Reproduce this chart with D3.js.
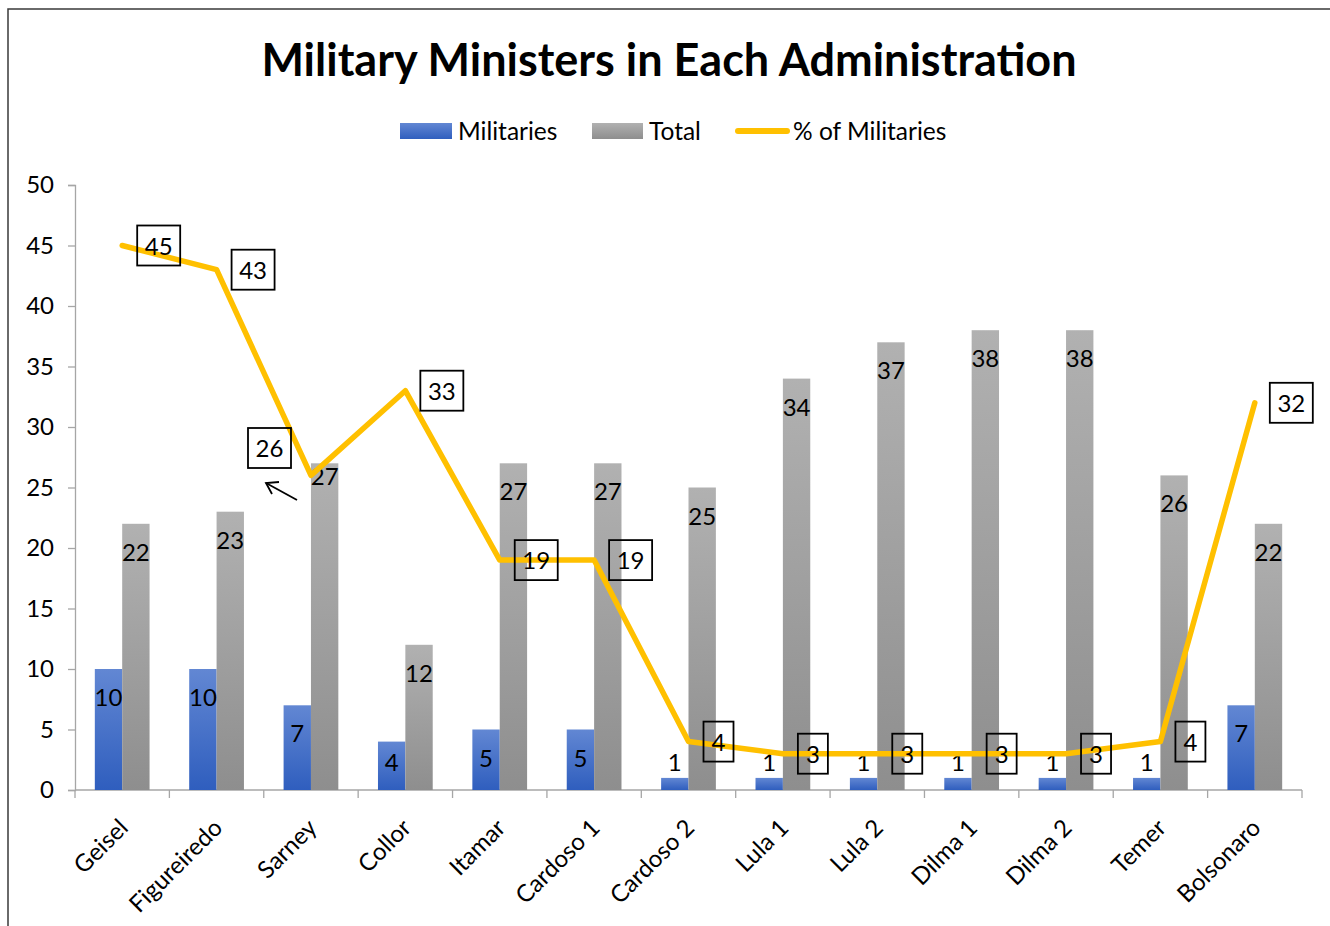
<!DOCTYPE html>
<html>
<head>
<meta charset="utf-8">
<script src="https://cdn.jsdelivr.net/npm/d3@7"></script>
<style>
  body { margin: 0; background: #fff; }
  text { font-family: Lato, "Open Sans", sans-serif; fill: #000; }
</style>
</head>
<body>
<div id="chart"></div>
<script>
// data
const administrations = ["Geisel", "Figureiredo", "Sarney", "Collor", "Itamar", "Cardoso 1", "Cardoso 2",
    "Lula 1", "Lula 2", "Dilma 1", "Dilma 2", "Temer", "Bolsonaro"];
const militaries = [10, 10, 7, 4, 5, 5, 1, 1, 1, 1, 1, 1, 7];
const totals = [22, 23, 27, 12, 27, 27, 25, 34, 37, 38, 38, 26, 22];
const pctMilitaries = [45, 43, 26, 33, 19, 19, 4, 3, 3, 3, 3, 4, 32];
const yTicks = [0, 5, 10, 15, 20, 25, 30, 35, 40, 45, 50];

const W = 1330, H = 926;
const margin = { top: 185, right: 28, bottom: 136, left: 75 };
const width = W - margin.left - margin.right;
const height = H - margin.top - margin.bottom;
const fs = "24px";

const svgRoot = d3.select("#chart").append("svg")
    .attr("width", W).attr("height", H);

// gradients for the bars
const defs = svgRoot.append("defs");
function grad(id, top, bottom) {
    const g = defs.append("linearGradient").attr("id", id)
        .attr("x1", 0).attr("y1", 0).attr("x2", 0).attr("y2", 1);
    g.append("stop").attr("offset", "0%").attr("stop-color", top);
    g.append("stop").attr("offset", "100%").attr("stop-color", bottom);
}
grad("gBlue", "#6287D3", "#2F5EBE");
grad("gGray", "#B1B1B1", "#8E8E8E");

// chart frame
svgRoot.append("rect")
    .attr("x", 8).attr("y", 9).attr("width", W + 20).attr("height", H + 20)
    .attr("fill", "none").attr("stroke", "#3a3a3a").attr("stroke-width", 1.5);

// title
svgRoot.append("text")
    .attr("x", 669).attr("y", 76)
    .attr("text-anchor", "middle")
    .style("font-size", "45px").style("font-weight", "bold")
    .text("Military Ministers in Each Administration");

const svg = svgRoot.append("g")
    .attr("transform", `translate(${margin.left},${margin.top})`);

// scales
const x0 = d3.scaleBand().domain(administrations).range([0, width]).paddingInner(0).paddingOuter(0);
const x1 = d3.scaleBand().domain(["mil", "tot"]).range([x0.bandwidth() * 0.21, x0.bandwidth() * 0.79]);
const y = d3.scaleLinear().domain([0, 50]).range([height, 0]);

// axes
const yAxis = svg.append("g").call(d3.axisLeft(y).tickValues(yTicks).tickSize(7).tickPadding(14));
yAxis.select(".domain").attr("stroke", "#a6a6a6").attr("stroke-width", 1.3);
yAxis.selectAll(".tick line").attr("stroke", "#a6a6a6").attr("stroke-width", 1.3);
yAxis.selectAll(".tick text").style("font-size", fs).style("font-family", "Lato, sans-serif").attr("fill", "#000");

const xAxis = svg.append("g").attr("transform", `translate(0,${height})`);
xAxis.append("line").attr("x1", 0).attr("x2", width).attr("stroke", "#a6a6a6").attr("stroke-width", 1.3);
d3.range(administrations.length + 1).forEach(i => {
    const xx = i * x0.step();
    xAxis.append("line").attr("x1", xx).attr("x2", xx).attr("y1", 0).attr("y2", 8)
        .attr("stroke", "#a6a6a6").attr("stroke-width", 1.3);
});
administrations.forEach(name => {
    const cx = x0(name) + x0.bandwidth() / 2;
    xAxis.append("text")
        .attr("transform", `translate(${cx + 3},${35}) rotate(-45)`)
        .attr("text-anchor", "end")
        .attr("dominant-baseline", "middle")
        .style("font-size", fs)
        .text(name);
});

// bars
const groups = svg.selectAll(".grp").data(administrations).enter().append("g")
    .attr("transform", d => `translate(${x0(d)},0)`);

groups.append("rect")
    .attr("x", x1("mil")).attr("width", x1.bandwidth())
    .attr("y", (d, i) => y(militaries[i]))
    .attr("height", (d, i) => height - y(militaries[i]))
    .attr("fill", "url(#gBlue)");

groups.append("rect")
    .attr("x", x1("tot")).attr("width", x1.bandwidth())
    .attr("y", (d, i) => y(totals[i]))
    .attr("height", (d, i) => height - y(totals[i]))
    .attr("fill", "url(#gGray)");

// bar labels
groups.append("text")
    .attr("x", x1("mil") + x1.bandwidth() / 2)
    .attr("y", (d, i) => Math.min(y(militaries[i]) + 31, height - 25))
    .attr("text-anchor", "middle").attr("dominant-baseline", "middle")
    .style("font-size", fs)
    .text((d, i) => militaries[i]);

groups.append("text")
    .attr("x", x1("tot") + x1.bandwidth() / 2)
    .attr("y", (d, i) => y(totals[i]) + (d === "Sarney" ? 16 : 31))
    .attr("text-anchor", "middle").attr("dominant-baseline", "middle")
    .style("font-size", fs)
    .text((d, i) => totals[i]);

// % line
const cx = d => x0(d) + x0.bandwidth() / 2;
const line = d3.line()
    .x((d, i) => cx(administrations[i]))
    .y(d => y(d));

svg.append("path")
    .datum(pctMilitaries)
    .attr("fill", "none")
    .attr("stroke", "#FFC000")
    .attr("stroke-width", 5.5)
    .attr("stroke-linejoin", "round")
    .attr("stroke-linecap", "round")
    .attr("d", line);

// boxed labels for the line
pctMilitaries.forEach((v, i) => {
    const px = cx(administrations[i]);
    const py = y(v);
    const w = String(v).length > 1 ? 43 : 30;
    let bx = px + 15, by = py - 20;
    if (administrations[i] === "Sarney") { bx = 173; by = 243; }
    svg.append("rect")
        .attr("x", bx).attr("y", by).attr("width", w).attr("height", 40)
        .attr("fill", "none").attr("stroke", "#000").attr("stroke-width", 1.8);
    svg.append("text")
        .attr("x", bx + w / 2).attr("y", by + 23)
        .attr("text-anchor", "middle").attr("dominant-baseline", "middle")
        .style("font-size", fs)
        .text(v);
});

// leader arrow for the moved Sarney label
svg.append("line")
    .attr("x1", 222).attr("y1", 315).attr("x2", 191).attr("y2", 298)
    .attr("stroke", "#000").attr("stroke-width", 1.8);
svg.append("path")
    .attr("d", "M204,297 L191,298 L197,309")
    .attr("fill", "none").attr("stroke", "#000").attr("stroke-width", 1.8);

// legend
const legend = svgRoot.append("g");
legend.append("rect").attr("x", 400).attr("y", 123).attr("width", 52).attr("height", 16).attr("fill", "url(#gBlue)");
legend.append("text").attr("x", 458).attr("y", 134).attr("dominant-baseline", "middle")
    .style("font-size", "24.5px").text("Militaries");
legend.append("rect").attr("x", 592).attr("y", 123).attr("width", 51).attr("height", 16).attr("fill", "url(#gGray)");
legend.append("text").attr("x", 649).attr("y", 134).attr("dominant-baseline", "middle")
    .style("font-size", "24.5px").text("Total");
legend.append("line").attr("x1", 738).attr("x2", 787).attr("y1", 131).attr("y2", 131)
    .attr("stroke", "#FFC000").attr("stroke-width", 6).attr("stroke-linecap", "round");
legend.append("text").attr("x", 793).attr("y", 134).attr("dominant-baseline", "middle")
    .style("font-size", "24.5px").text("% of Militaries");
</script>
</body>
</html>
